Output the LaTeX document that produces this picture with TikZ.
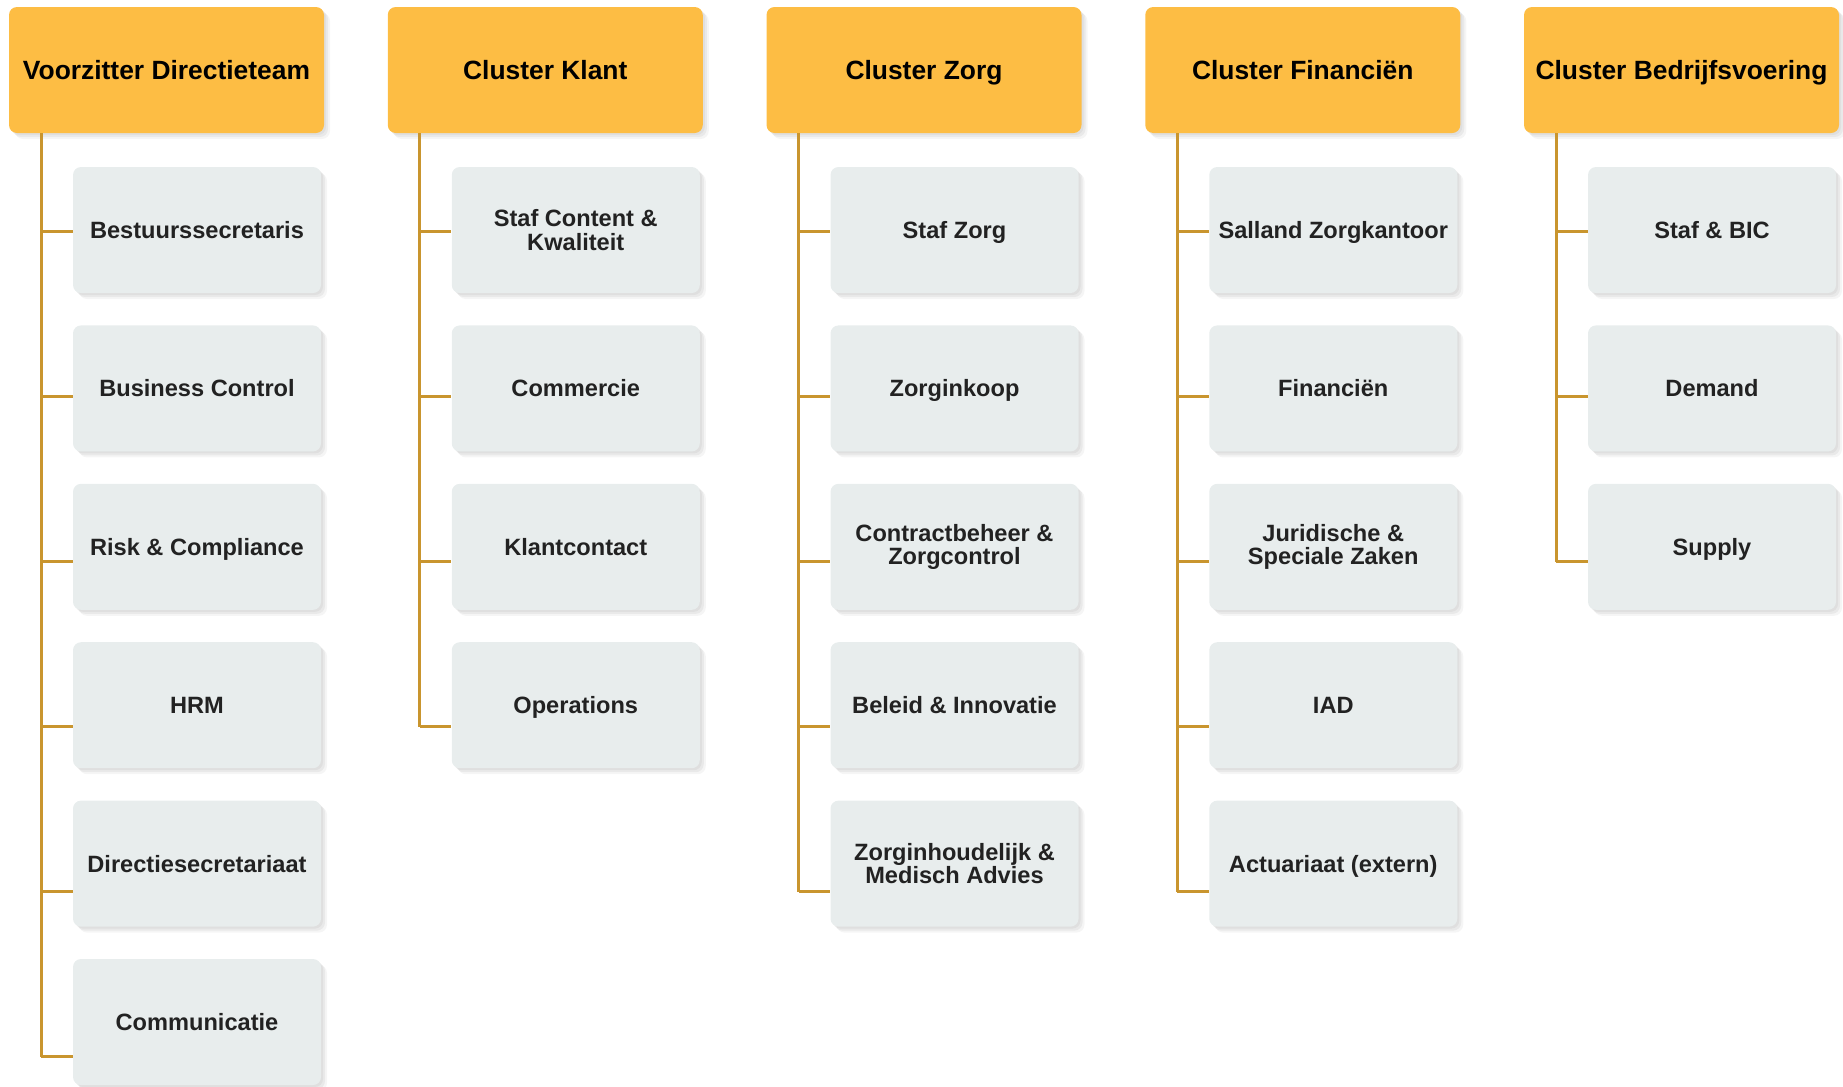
\documentclass[tikz,border=0pt]{standalone}
\usepackage{fontspec}
\setmainfont{Liberation Sans}
\usepackage{tikz}
\usetikzlibrary{positioning,shadows}

\definecolor{headfill}{HTML}{FDBD44}
\definecolor{unitfill}{HTML}{E8EDED}
\definecolor{linkcol}{HTML}{C9952E}
\definecolor{unittext}{HTML}{222222}

\begin{document}
\begin{tikzpicture}[
      x=0.5pt, y=-0.5pt,
      soft/.style  = {drop shadow={opacity=0.10, shadow xshift=1pt, shadow yshift=-1pt},
                      drop shadow={opacity=0.10, shadow xshift=2pt, shadow yshift=-2pt},
                      drop shadow={opacity=0.08, shadow xshift=3pt, shadow yshift=-3pt}},
      head/.style  = {rectangle, rounded corners=4pt, fill=headfill, text=black, soft,
                      minimum width=157.5pt, minimum height=63pt, inner sep=1pt,
                      text height=9.45pt, text depth=0pt,
                      font=\fontsize{13.2}{14}\selectfont\bfseries},
      unit/.style  = {rectangle, rounded corners=4pt, fill=unitfill, text=unittext, soft,
                      minimum width=124pt, minimum height=63pt, inner sep=1pt, align=center,
                      font=\fontsize{11.8}{11.8}\selectfont\bfseries},
      one/.style   = {unit, text height=8.45pt, text depth=0pt},
      link/.style  = {draw=linkcol, line width=1.5pt},
    ]
    \useasboundingbox (0,0) rectangle (1843,1087);

    %% ------------------------------------------------ column 1 (voorzitter)
    \node[head] (h1) at (166.5, 70) {Voorzitter Directieteam};
    \node[one] (u11) at (197, 230.0)  {Bestuurssecretaris};
    \node[one] (u12) at (197, 388.4)  {Business Control};
    \node[one] (u13) at (197, 546.8)  {Risk \& Compliance};
    \node[one] (u14) at (197, 705.2)  {HRM};
    \node[one] (u15) at (197, 863.6)  {Directiesecretariaat};
    \node[one] (u16) at (197, 1022.0) {Communicatie};
    \coordinate (t1) at (41, 133);
    \coordinate (b11) at (41, 231.5);
    \coordinate (b12) at (41, 396.5);
    \coordinate (b13) at (41, 561.6);
    \coordinate (b14) at (41, 726.6);
    \coordinate (b15) at (41, 891.7);
    \coordinate (b16) at (41, 1056.7);
    \draw[link] (t1) -- (b16);
    \draw[link] (b11) -- (b11 -| u11.west);
    \draw[link] (b12) -- (b12 -| u12.west);
    \draw[link] (b13) -- (b13 -| u13.west);
    \draw[link] (b14) -- (b14 -| u14.west);
    \draw[link] (b15) -- (b15 -| u15.west);
    \draw[link] (b16) -- (b16 -| u16.west);

    %% ------------------------------------------------ column 2 (klant)
    \node[head] (h2) at (545.25, 70) {Cluster Klant};
    \node[unit] (u21) at (575.75, 230.0) {Staf Content \&\\Kwaliteit};
    \node[one] (u22) at (575.75, 388.4) {Commercie};
    \node[one] (u23) at (575.75, 546.8) {Klantcontact};
    \node[one] (u24) at (575.75, 705.2) {Operations};
    \coordinate (t2) at (419.75, 133);
    \coordinate (b21) at (419.75, 231.5);
    \coordinate (b22) at (419.75, 396.5);
    \coordinate (b23) at (419.75, 561.6);
    \coordinate (b24) at (419.75, 726.6);
    \draw[link] (t2) -- (b24);
    \draw[link] (b21) -- (b21 -| u21.west);
    \draw[link] (b22) -- (b22 -| u22.west);
    \draw[link] (b23) -- (b23 -| u23.west);
    \draw[link] (b24) -- (b24 -| u24.west);

    %% ------------------------------------------------ column 3 (zorg)
    \node[head] (h3) at (924, 70) {Cluster Zorg};
    \node[one] (u31) at (954.5, 230.0) {Staf Zorg};
    \node[one] (u32) at (954.5, 388.4) {Zorginkoop};
    \node[unit] (u33) at (954.5, 546.8) {Contractbeheer \&\\Zorgcontrol};
    \node[one] (u34) at (954.5, 705.2) {Beleid \& Innovatie};
    \node[unit] (u35) at (954.5, 863.6) {Zorginhoudelijk \&\\Medisch Advies};
    \coordinate (t3) at (798.5, 133);
    \coordinate (b31) at (798.5, 231.5);
    \coordinate (b32) at (798.5, 396.5);
    \coordinate (b33) at (798.5, 561.6);
    \coordinate (b34) at (798.5, 726.6);
    \coordinate (b35) at (798.5, 891.7);
    \draw[link] (t3) -- (b35);
    \draw[link] (b31) -- (b31 -| u31.west);
    \draw[link] (b32) -- (b32 -| u32.west);
    \draw[link] (b33) -- (b33 -| u33.west);
    \draw[link] (b34) -- (b34 -| u34.west);
    \draw[link] (b35) -- (b35 -| u35.west);

    %% ------------------------------------------------ column 4 (financien)
    \node[head] (h4) at (1302.75, 70) {Cluster Financiën};
    \node[one] (u41) at (1333.25, 230.0) {Salland Zorgkantoor};
    \node[one] (u42) at (1333.25, 388.4) {Financiën};
    \node[unit] (u43) at (1333.25, 546.8) {Juridische \&\\Speciale Zaken};
    \node[one] (u44) at (1333.25, 705.2) {IAD};
    \node[one] (u45) at (1333.25, 863.6) {Actuariaat (extern)};
    \coordinate (t4) at (1177.25, 133);
    \coordinate (b41) at (1177.25, 231.5);
    \coordinate (b42) at (1177.25, 396.5);
    \coordinate (b43) at (1177.25, 561.6);
    \coordinate (b44) at (1177.25, 726.6);
    \coordinate (b45) at (1177.25, 891.7);
    \draw[link] (t4) -- (b45);
    \draw[link] (b41) -- (b41 -| u41.west);
    \draw[link] (b42) -- (b42 -| u42.west);
    \draw[link] (b43) -- (b43 -| u43.west);
    \draw[link] (b44) -- (b44 -| u44.west);
    \draw[link] (b45) -- (b45 -| u45.west);

    %% ------------------------------------------------ column 5 (bedrijfsvoering)
    \node[head] (h5) at (1681.5, 70) {Cluster Bedrijfsvoering};
    \node[one] (u51) at (1712, 230.0) {Staf \& BIC};
    \node[one] (u52) at (1712, 388.4) {Demand};
    \node[one] (u53) at (1712, 546.8) {Supply};
    \coordinate (t5) at (1556, 133);
    \coordinate (b51) at (1556, 231.5);
    \coordinate (b52) at (1556, 396.5);
    \coordinate (b53) at (1556, 561.6);
    \draw[link] (t5) -- (b53);
    \draw[link] (b51) -- (b51 -| u51.west);
    \draw[link] (b52) -- (b52 -| u52.west);
    \draw[link] (b53) -- (b53 -| u53.west);
  \end{tikzpicture}
\end{document}
